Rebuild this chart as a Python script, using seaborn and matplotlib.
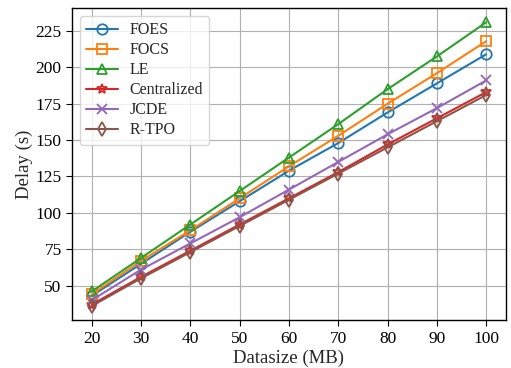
import matplotlib
matplotlib.use("Agg")
import matplotlib.pyplot as plt
import seaborn as sns
import pandas as pd

datasize = [20, 30, 40, 50, 60, 70, 80, 90, 100]
foes = [43, 65, 87, 108, 129, 148, 169, 189, 209]
focs = [44, 67, 88, 110, 132, 153, 175, 196, 218]
le = [46, 69, 92, 115, 138, 161, 185, 207.5, 231]
centralized = [37, 56, 74, 92, 110, 128, 147, 165, 183]
jcde = [40, 61, 79, 97, 116, 135, 154, 172, 191]
rtpo = [36, 55, 73, 91, 109, 127, 145, 163, 181]

series = [("FOES", foes, "o"), ("FOCS", focs, "s"), ("LE", le, "^"),
          ("Centralized", centralized, "*"), ("JCDE", jcde, "x"), ("R-TPO", rtpo, "d")]

sns.set_theme(style="ticks")
plt.rcParams['font.family'] = ['Liberation Serif', 'DejaVu Serif']

fig = plt.figure(figsize=(5.11, 3.68), dpi=100)
ax = fig.add_axes([0.141, 0.130, 0.849, 0.848])
colors = sns.color_palette("tab10")
for i, (name, vals, mk) in enumerate(series):
    df = pd.DataFrame({"x": datasize, "y": vals})
    sns.lineplot(data=df, x="x", y="y", ax=ax, color=colors[i], marker=mk,
                 markersize=7.5, markerfacecolor="none", markeredgecolor=colors[i],
                 markeredgewidth=1.3, linewidth=1.5, label=name)

ax.grid(True, color="#b0b0b0", linewidth=0.8)
ax.set_xticks(datasize)
ax.set_yticks([50, 75, 100, 125, 150, 175, 200, 225])
ax.tick_params(labelsize=12.5, direction="out", length=4, width=0.8, colors="black")
ax.set_xlabel("Datasize (MB)", fontsize=13.5, labelpad=2)
ax.set_ylabel("Delay (s)", fontsize=13.5, labelpad=2)
for s in ax.spines.values():
    s.set_visible(True)
    s.set_color("black")
    s.set_linewidth(1.0)
ax.legend(loc="upper left", fontsize=11.5, frameon=True, fancybox=True, framealpha=0.8,
          edgecolor="#cccccc", handlelength=2.0, handletextpad=0.7, labelspacing=0.25,
          borderaxespad=0.5, borderpad=0.4)
fig.savefig("out.png", dpi=100)
